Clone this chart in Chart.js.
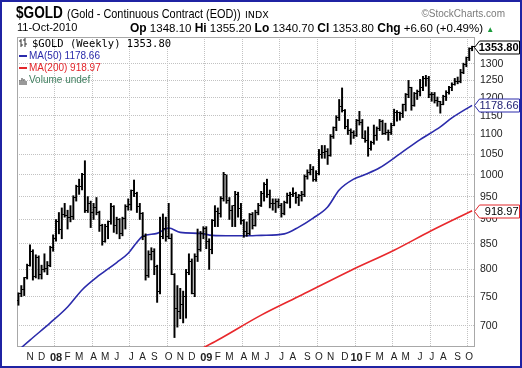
<!DOCTYPE html>
<html><head><meta charset="utf-8">
<title>$GOLD weekly</title>
<script src="https://cdn.jsdelivr.net/npm/chart.js@4.4.1/dist/chart.umd.min.js"></script>
<style>
html,body{margin:0;padding:0;background:#fff;}
#wrap{position:relative;width:522px;height:368px;overflow:hidden;background:#fff;}
#c{position:absolute;left:0;top:0;}
.t{position:absolute;white-space:nowrap;font-family:"Liberation Sans",Arial,sans-serif;color:#000;line-height:1;}
.lg{position:absolute;white-space:nowrap;line-height:1;display:flex;align-items:center;}
#frame{position:absolute;left:0;top:0;width:518px;height:364px;border:2px solid #1f23a3;pointer-events:none;}
</style></head><body>
<div id="wrap">
<canvas id="c" width="522" height="368"></canvas>
<div class="t" id="sym" style="left:16px;top:4px;font-size:17px;font-weight:bold;transform:scaleX(0.8);transform-origin:0 0;"></div>
<div class="t" id="name" style="left:67px;top:7px;font-size:13px;transform:scaleX(0.84);transform-origin:0 0;"></div>
<div class="t" id="exch" style="left:245px;top:10px;font-size:9.5px;font-family:'DejaVu Sans',sans-serif;"></div>
<div class="t" id="brand" style="right:17px;top:9px;font-size:10px;color:#7a7a7a;"></div>
<div class="t" id="date" style="left:17px;top:22px;font-size:11px;"></div>
<div class="t" id="quote" style="left:130px;top:22px;font-size:11.5px;"></div>
<div class="lg" style="left:19px;top:38px;">
  <svg width="9" height="10" style="margin-right:4px"><path d="M2 1v8M0 3h2M2 7h2M6 0v9M4 2h2M6 6h2" stroke="#333" stroke-width="1" fill="none"/></svg>
  <span id="lg1" style="font-family:'DejaVu Sans Mono',monospace;font-size:10.5px;color:#000;"></span>
</div>
<div class="lg" style="left:19px;top:51px;">
  <span style="display:inline-block;width:8px;height:2px;background:#2b2bab;margin-right:2px"></span>
  <span id="lg2" style="font-family:'Liberation Sans',Arial,sans-serif;font-size:10px;color:#2b2bab;"></span>
</div>
<div class="lg" style="left:19px;top:63px;">
  <span style="display:inline-block;width:8px;height:2px;background:#e3262b;margin-right:2px"></span>
  <span id="lg3" style="font-family:'Liberation Sans',Arial,sans-serif;font-size:10px;color:#e3262b;"></span>
</div>
<div class="lg" style="left:19px;top:75px;">
  <svg width="9" height="9" style="margin-right:1px"><path d="M1 9V4M3 9V2M5 9V3M7 9V5" stroke="#555" stroke-width="1.2" fill="none"/></svg>
  <span id="lg4" style="font-family:'Liberation Sans',Arial,sans-serif;font-size:10px;color:#3f7f5f;"></span>
</div>
<div id="frame"></div>
</div>
<script>
// ---------------- data (weekly bars, week 0 = 8-Oct-2007) ----------------
const symbol = '$GOLD';
const symbolName = '(Gold - Continuous Contract (EOD))';
const exchange = 'INDX';
const lastDate = '11-Oct-2010';

const opens = [743,755,763,784,807,834,786,822,790,800,801,808,842,860,895,880,910,908,905,906,
948,972,972,1000,920,935,915,925,915,888,855,885,895,928,888,900,870,903,928,932,
963,958,928,912,865,788,829,834,805,760,865,882,865,860,790,730,725,737,750,795,
815,755,825,838,870,882,855,838,898,918,912,945,1000,942,920,930,955,923,898,875,
870,910,887,915,930,958,978,955,935,935,940,930,912,937,953,955,958,948,953,955,
996,1005,1012,990,1004,1050,1055,1057,1046,1096,1118,1146,1176,1163,1120,1110,1105,1097,1138,1131,
1091,1084,1065,1079,1097,1117,1134,1103,1106,1105,1125,1160,1160,1156,1180,1208,1229,1177,1213,1218,
1228,1257,1257,1209,1210,1191,1189,1181,1204,1215,1228,1237,1247,1246,1275,1297,1318,1348.1];
const highs = [757,770,785,810,848,838,828,826,808,830,815,845,868,900,915,925,935,920,930,952,
976,990,1004,1034,950,940,935,948,918,890,890,897,935,930,905,902,905,932,945,965,
988,960,935,915,870,836,842,840,808,905,912,905,935,870,792,770,765,760,800,830,
820,830,880,875,885,885,860,900,930,925,950,1006,1000,948,930,962,960,935,900,895,
913,915,920,935,962,982,990,965,945,945,945,935,940,958,960,970,960,955,962,1000,
1012,1025,1020,1010,1062,1072,1072,1064,1100,1120,1150,1195,1228,1167,1140,1115,1110,1140,1162,1140,
1110,1120,1083,1125,1120,1140,1138,1130,1112,1130,1168,1164,1160,1182,1212,1250,1230,1215,1222,1253,
1262,1265,1262,1215,1215,1202,1190,1207,1220,1233,1243,1256,1260,1283,1302,1321,1350,1355.2];
const lows = [735,750,752,782,806,780,784,782,782,795,790,805,835,855,870,860,905,880,895,900,
940,955,965,915,915,883,900,910,875,847,853,860,890,873,870,860,866,880,920,920,
950,915,900,858,780,785,818,790,740,755,860,855,860,790,681,698,712,705,713,790,
755,750,815,835,860,840,800,830,885,885,905,940,935,900,885,885,905,890,863,865,
868,880,886,910,928,940,948,925,920,915,925,905,910,935,925,950,935,930,940,950,
990,1000,985,985,1000,1040,1040,1025,1045,1090,1110,1137,1160,1115,1100,1075,1090,1095,1125,1090,
1080,1045,1060,1075,1085,1110,1100,1100,1085,1100,1123,1135,1138,1145,1163,1200,1165,1176,1195,1205,
1220,1233,1200,1190,1185,1176,1157,1180,1192,1210,1220,1236,1240,1243,1270,1291,1310,1340.7];
const closes = [755,763,784,807,834,786,822,790,800,801,808,842,860,895,880,910,908,905,906,948,
972,972,1000,920,935,915,925,915,888,855,885,895,928,888,900,870,903,928,932,963,
958,928,912,865,788,829,834,805,760,865,882,865,860,790,730,725,737,750,795,815,
755,825,838,870,882,855,838,898,918,912,945,1000,942,920,930,955,923,898,875,870,
910,887,915,930,958,978,955,935,935,940,930,912,937,953,955,958,948,953,955,996,
1005,1012,990,1004,1050,1055,1057,1046,1096,1118,1146,1176,1163,1120,1110,1105,1097,1138,1131,1091,
1084,1065,1079,1097,1117,1134,1103,1106,1105,1125,1160,1160,1156,1180,1208,1229,1177,1213,1218,1228,
1257,1257,1209,1210,1191,1189,1181,1204,1215,1228,1237,1247,1246,1275,1297,1318,1347.2,1353.8];

// moving averages (week index -> value)
const ma50Weeks = [0,4,11,17,22,28,34,38,41,43,48,52,56,63,67,74,78,84,92,97,102,107,111,116,120,125,132,139,146,150,157];
const ma50Vals  = [661,677,705,732,762,789,813,831,853,865,871,882,873,871,867,866,866,867,870,884,903,927,965,990,1001,1017,1051,1087,1120,1144,1178.66];
const ma200Weeks = [62,69,84,98,115,130,143,157];
const ma200Vals  = [660,677,718,753,798,837,877,918.97];

// axis ticks
const yTicks = [700,750,800,850,900,950,1000,1050,1100,1150,1200,1250,1300];
const monthTickWeeks  = [4,8,13,17,21,26,30,34,39,43,47,52,56,60,65,69,73,78,82,86,91,95,100,104,108,113,117,121,125,130,134,139,143,147,152,156];
const monthTickLabels = ['N','D','08','F','M','A','M','J','J','A','S','O','N','D','09','F','M','A','M','J','J','A','S','O','N','D','10','F','M','A','M','J','J','A','S','O'];
const quarterWeeks = [13,26,39,52,65,78,91,104,117,130,143,156];

// ---------------- texts ----------------
const last = closes.length - 1;
const chg = closes[last] - closes[last-1];
const pct = chg / closes[last-1] * 100;
const f2 = v => v.toFixed(2);
document.getElementById('sym').textContent = symbol;
document.getElementById('name').textContent = symbolName;
document.getElementById('exch').textContent = exchange;
document.getElementById('brand').textContent = '\u00A9StockCharts.com';
document.getElementById('date').textContent = lastDate;
const B = s => '<b style="font-size:12px">' + s + '</b>';
document.getElementById('quote').innerHTML =
  B('Op') + ' ' + f2(opens[last]) + ' ' + B('Hi') + ' ' + f2(highs[last]) + ' ' +
  B('Lo') + ' ' + f2(lows[last]) + ' ' + B('Cl') + ' ' + f2(closes[last]) + ' ' +
  B('Chg') + ' ' + (chg>=0?'+':'') + f2(chg) + ' (' + (pct>=0?'+':'') + f2(pct) + '%) ' +
  '<span style="color:#1a9a3a;font-size:8px">\u25B2</span>';
document.getElementById('lg1').textContent = symbol + ' (Weekly) ' + f2(closes[last]);
document.getElementById('lg2').textContent = 'MA(50) ' + f2(ma50Vals[ma50Vals.length-1]);
document.getElementById('lg3').textContent = 'MA(200) ' + f2(ma200Vals[ma200Vals.length-1]);
document.getElementById('lg4').textContent = 'Volume undef';

// ---------------- chart ----------------
function tickImg(side){
  const c = document.createElement('canvas'); c.width = 5; c.height = 1;
  const g = c.getContext('2d'); g.fillStyle = '#000';
  if (side === 'L') g.fillRect(0,0,2,1); else g.fillRect(3,0,2,1);
  return c;
}
const labelMap = new Map(monthTickWeeks.map((w,i)=>[w, monthTickLabels[i]]));
const gridVals = quarterWeeks.map(w => w - 0.5);
const xTickVals = [...monthTickWeeks, ...gridVals].sort((a,b)=>a-b);
const GRID = '#c2c2c2';

const borderPlugin = {
  id:'plotBorder',
  beforeDatasetsDraw(chart){
    const {ctx, chartArea:a} = chart;
    ctx.save(); ctx.strokeStyle = '#a8a8a8'; ctx.lineWidth = 1;
    ctx.strokeRect(Math.round(a.left)+0.5, Math.round(a.top)+0.5, Math.round(a.right-a.left)-1, Math.round(a.bottom-a.top)-1);
    ctx.restore();
  }
};
const tagPlugin = {
  id:'tags',
  afterDraw(chart){
    const {ctx, chartArea:a, scales:{y}} = chart;
    const tags = [
      {v: closes[last], border:'#000', color:'#000', font:'bold 11px "Liberation Sans", Arial'},
      {v: ma50Vals[ma50Vals.length-1], border:'#2b2bab', color:'#1c1c70', font:'11px "Liberation Sans", Arial'},
      {v: ma200Vals[ma200Vals.length-1], border:'#e3262b', color:'#000', font:'11px "Liberation Sans", Arial'}
    ];
    tags.forEach(t=>{
      const cy = Math.round(y.getPixelForValue(t.v)) + 0.5;
      const x0 = Math.round(a.right) - 0.5, x1 = 519.5, h = 6.5;
      ctx.save();
      ctx.beginPath();
      ctx.moveTo(x0, cy); ctx.lineTo(x0+5, cy-h); ctx.lineTo(x1, cy-h); ctx.lineTo(x1, cy+h); ctx.lineTo(x0+5, cy+h); ctx.closePath();
      ctx.fillStyle = '#fff'; ctx.fill();
      ctx.strokeStyle = t.border; ctx.lineWidth = 1; ctx.stroke();
      ctx.font = t.font; ctx.fillStyle = t.color; ctx.textAlign = 'right'; ctx.textBaseline = 'middle';
      ctx.fillText(f2(t.v), x1 - 1, cy + 0.5);
      ctx.restore();
    });
  }
};

new Chart(document.getElementById('c'), {
  type:'line',
  data:{ datasets:[
    { type:'line', label:'MA(200)', data: ma200Weeks.map((w,i)=>({x:w, y:ma200Vals[i]})),
      borderColor:'#e8282c', borderWidth:1.6, pointRadius:0, cubicInterpolationMode:'monotone', order:4 },
    { type:'line', label:'MA(50)', data: ma50Weeks.map((w,i)=>({x:w, y:ma50Vals[i]})),
      borderColor:'#2b2bab', borderWidth:1.6, pointRadius:0, cubicInterpolationMode:'monotone', order:3 },
    { type:'bar', label:'$GOLD', data: closes.map((c,i)=>({x:i, y:[lows[i], highs[i]]})),
      backgroundColor:'#000', borderWidth:0, barThickness:1.3, order:2 },
    { type:'line', label:'open', data: opens.map((o,i)=>({x:i, y:o})), showLine:false,
      pointStyle: tickImg('L'), pointRadius:2, order:1 },
    { type:'line', label:'close', data: closes.map((c,i)=>({x:i, y:c})), showLine:false,
      pointStyle: tickImg('R'), pointRadius:2, order:1 }
  ]},
  options:{
    responsive:false, animation:false, events:[],
    layout:{padding:{left:17, top:37, right:0, bottom:0}},
    plugins:{legend:{display:false}, tooltip:{enabled:false}},
    scales:{
      x:{ type:'linear', min:-0.5, max:158, offset:false, bounds:'data',
        afterBuildTicks: s => { s.ticks = xTickVals.map(v=>({value:v})); },
        afterFit: s => { s.height = 21; },
        grid:{ offset:false, drawTicks:false, lineWidth:1,
          color: c => (c.tick && gridVals.includes(c.tick.value)) ? GRID : 'rgba(0,0,0,0)' },
        border:{ display:false, dash:[1,1] },
        ticks:{ autoSkip:false, maxRotation:0, minRotation:0, padding:4, color:'#222',
          callback: v => labelMap.has(v) ? labelMap.get(v) : '',
          font: c => {
            const lab = c.tick ? labelMap.get(c.tick.value) : '';
            return (lab && /\d/.test(lab)) ? {family:'"Liberation Sans", Arial', size:11, weight:'bold'}
                                          : {family:'"Liberation Sans", Arial', size:10, weight:'normal'};
          } }
      },
      y:{ type:'logarithmic', position:'right', min:666, max:1385, bounds:'data',
        afterBuildTicks: s => { s.ticks = yTicks.map(v=>({value:v})); },
        afterFit: s => { s.width = 47; },
        grid:{ drawTicks:false, color:GRID, lineWidth:1 },
        border:{ display:false, dash:[1,1] },
        ticks:{ padding:5, color:'#222', font:{family:'"Liberation Sans", Arial', size:10.5},
          callback: v => String(v) }
      }
    }
  },
  plugins:[borderPlugin, tagPlugin]
});
</script>
</body></html>
